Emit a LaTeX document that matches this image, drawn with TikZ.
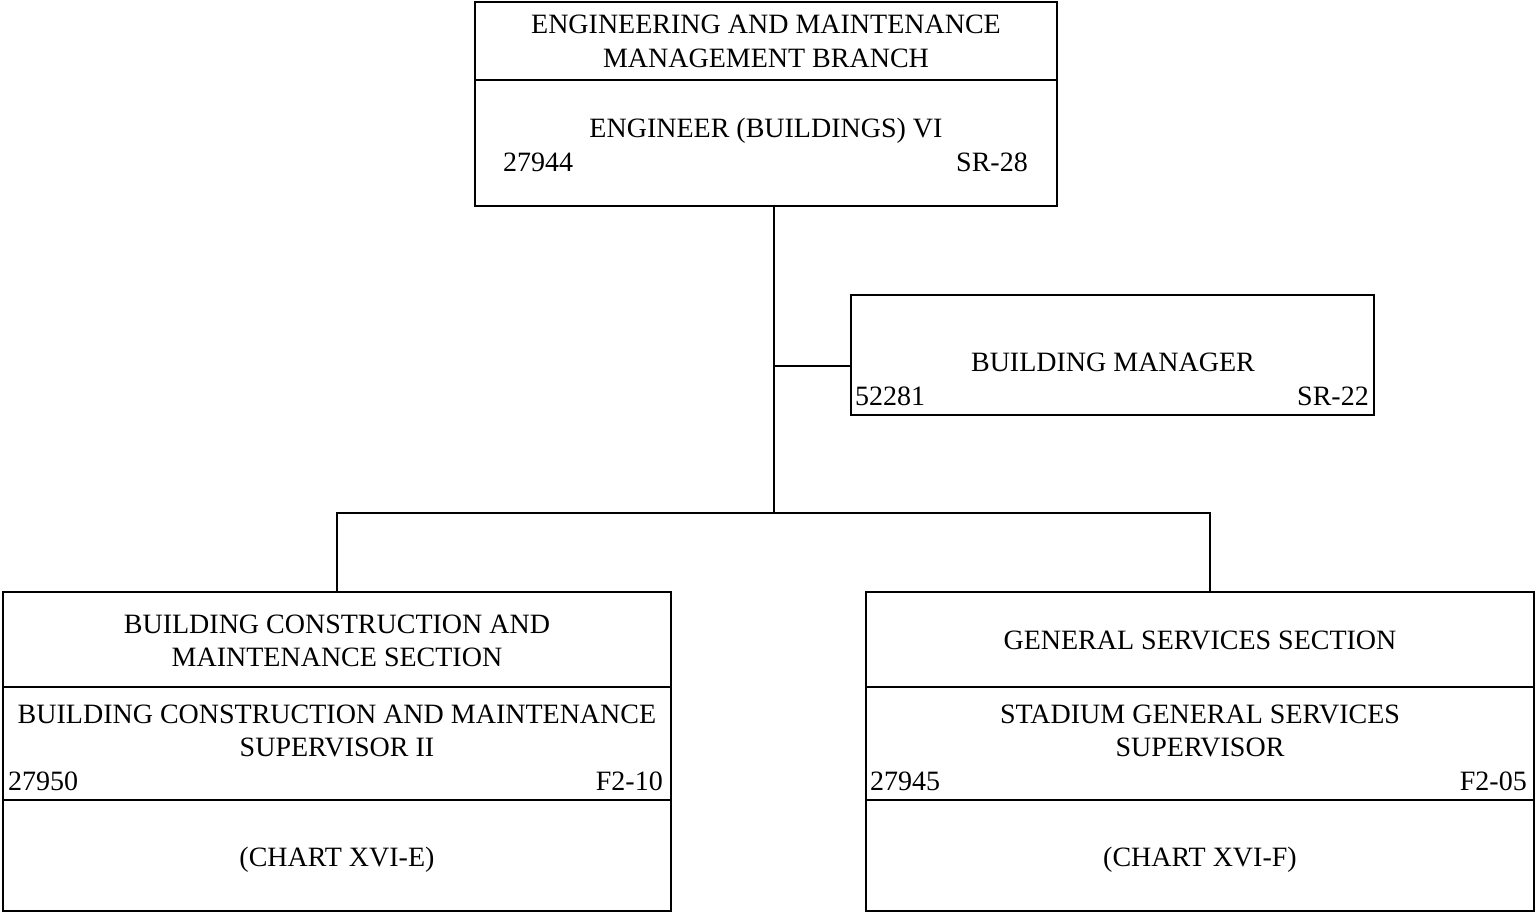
\documentclass[tikz,border=0pt]{standalone}
\usepackage{fontspec}
\setmainfont{Liberation Serif}
\begin{document}
\begin{tikzpicture}[x=1pt,y=-1pt,
  box/.style={draw, line width=1.3pt, outer sep=0pt, inner sep=0pt, anchor=north west},
  conn/.style={line width=1.3pt},
  divl/.style={line width=1.3pt},
  txt/.style={inner sep=0pt, anchor=base, font=\fontsize{28}{33.5}\selectfont},
  lnum/.style={inner sep=0pt, anchor=base west, font=\fontsize{28}{33.5}\selectfont},
  rnum/.style={inner sep=0pt, anchor=base east, font=\fontsize{28}{33.5}\selectfont}]
\useasboundingbox[fill=white] (0,0) rectangle (1535,914);

% boxes
\node[box, minimum width=582pt, minimum height=204pt] (top) at (475,2) {};
\node[box, minimum width=523pt, minimum height=120pt] (bm) at (851,295) {};
\node[box, minimum width=668pt, minimum height=319pt] (lb) at (3,592) {};
\node[box, minimum width=668pt, minimum height=319pt] (rb) at (866,592) {};

% dividers
\draw[divl] (top.west |- 0,80) -- (top.east |- 0,80);
\draw[divl] (lb.west |- 0,687) -- (lb.east |- 0,687);
\draw[divl] (lb.west |- 0,800) -- (lb.east |- 0,800);
\draw[divl] (rb.west |- 0,687) -- (rb.east |- 0,687);
\draw[divl] (rb.west |- 0,800) -- (rb.east |- 0,800);

% top box text
\node[txt] (t1) at (766,33.5) {ENGINEERING AND MAINTENANCE};
\node[txt] (t2) at (766,67) {MANAGEMENT BRANCH};
\node[txt] (t3) at (766,137) {ENGINEER (BUILDINGS) VI};
\node[lnum] (t4) at (503,171) {27944};
\node[rnum] (t5) at (1028,171) {SR-28};

% building manager
\node[txt] (b1) at (1113,371.5) {BUILDING MANAGER};
\node[lnum] (b2) at (855,405) {52281};
\node[rnum] (b3) at (1369,405) {SR-22};

% left bottom
\node[txt] (l1) at (337,633) {BUILDING CONSTRUCTION AND};
\node[txt] (l2) at (337,666) {MAINTENANCE SECTION};
\node[txt] (l3) at (337,723) {BUILDING CONSTRUCTION AND MAINTENANCE};
\node[txt] (l4) at (337,756.5) {SUPERVISOR II};
\node[lnum] (l5) at (8,790) {27950};
\node[rnum] (l6) at (663,790) {F2-10};
\node[txt] (l7) at (337,866) {(CHART XVI-E)};

% right bottom
\node[txt] (r1) at (1200,649) {GENERAL SERVICES SECTION};
\node[txt] (r2) at (1200,723) {STADIUM GENERAL SERVICES};
\node[txt] (r3) at (1200,756.5) {SUPERVISOR};
\node[lnum] (r4) at (870,790) {27945};
\node[rnum] (r5) at (1527,790) {F2-05};
\node[txt] (r6) at (1200,866) {(CHART XVI-F)};

% connectors
\coordinate (jb) at (774,513);
\coordinate (jm) at (774,366);
\coordinate (jr) at (1210,513);
\draw[conn] (jb |- top.south) -- (jb);
\draw[conn] (jm) -- (jm -| bm.west);
\draw[conn] (jb) -- (jb -| lb.north) -- (lb.north);
\draw[conn] (jb) -- (jr) -- (jr |- rb.north);
\end{tikzpicture}
\end{document}
